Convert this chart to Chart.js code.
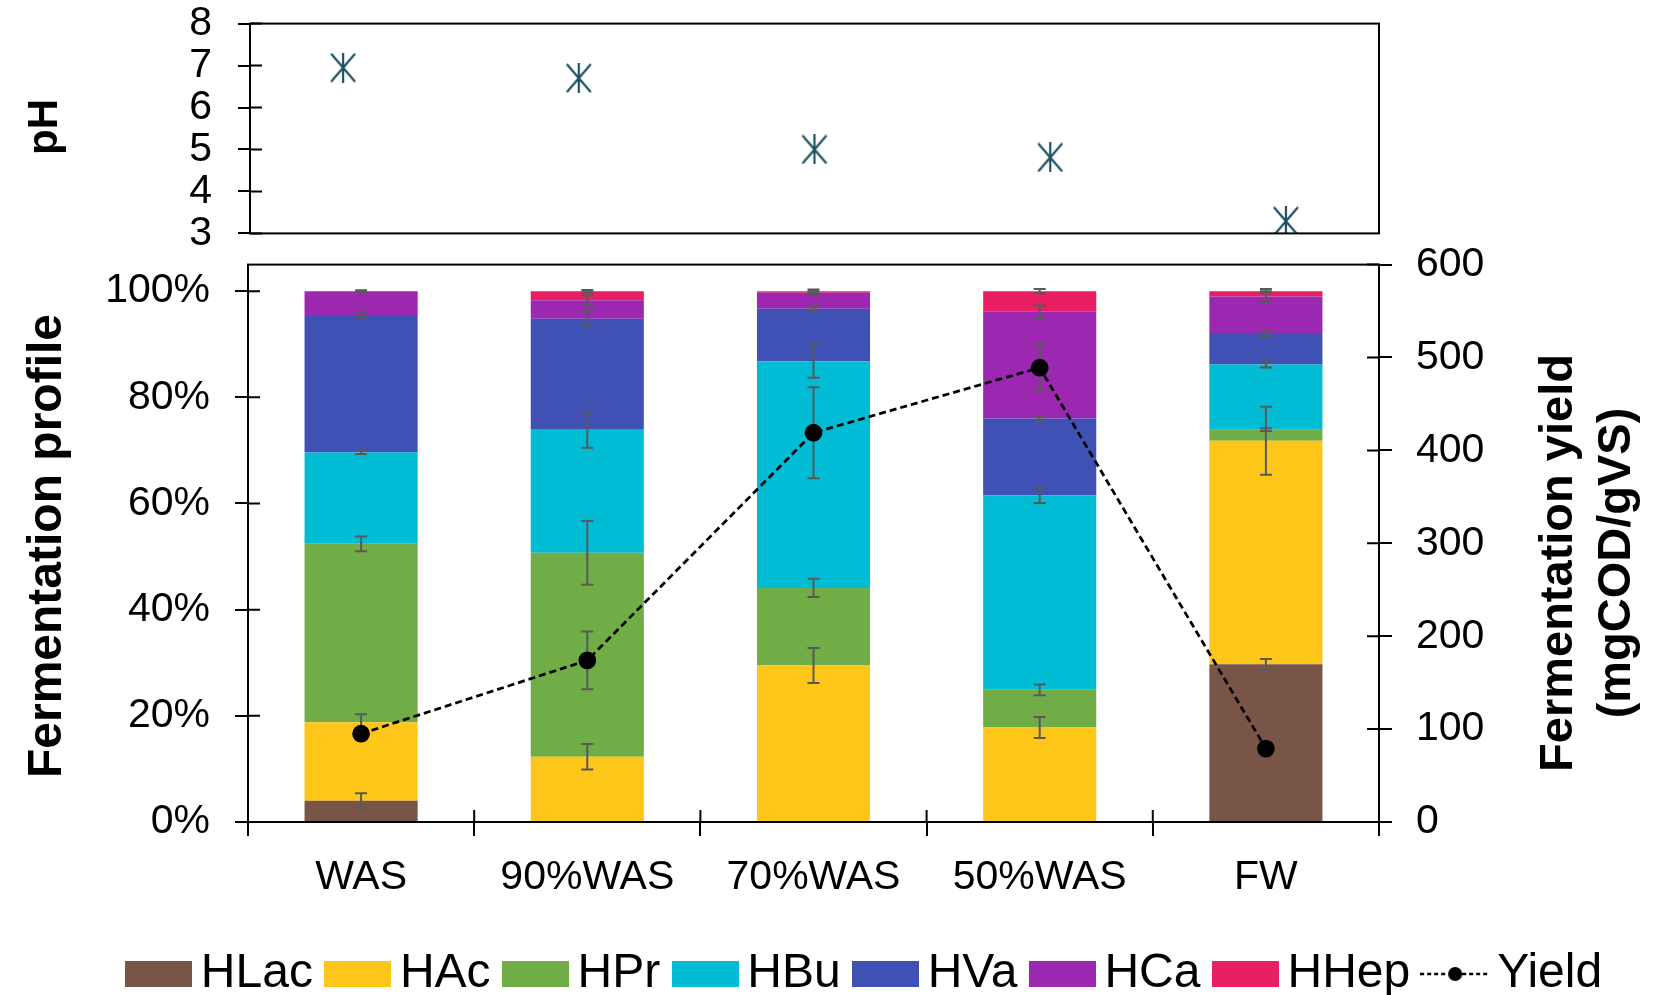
<!DOCTYPE html>
<html>
<head>
<meta charset="utf-8">
<script src="https://cdn.jsdelivr.net/npm/chart.js@4"></script>
<style>
  body { margin: 0; background: #fff; width: 1663px; height: 995px; overflow: hidden; position: relative; }
  #topBox { position: absolute; left: 0; top: -27px; z-index: 2; }
  #botBox { position: absolute; left: 0; top: 215px; z-index: 1; }
</style>
</head>
<body>
<div id="topBox"><canvas id="phChart" width="1663" height="311"></canvas></div>
<div id="botBox"><canvas id="fermChart" width="1663" height="793"></canvas></div>
<script>
// categories and values
const categories = ['WAS', '90%WAS', '70%WAS', '50%WAS', 'FW'];
const pH = [6.95, 6.7, 5.0, 4.81, 3.29];

// acid shares (% of total)
const hLac = [4.0, 0, 0, 0, 29.7];
const hAc = [14.8, 12.3, 29.5, 17.8, 42.1];
const hPr = [33.6, 38.4, 14.6, 7.1, 2.1];
const hBu = [17.2, 23.2, 42.7, 36.6, 12.3];
const hVa = [25.9, 20.9, 9.9, 14.5, 5.9];
const hCa = [4.5, 3.5, 3.0, 20.1, 6.9];
const hHep = [0, 1.7, 0.3, 3.9, 1.0];

// error bars (+/-)
const errLac = [1.4, 0, 0, 0, 1.0];
const errAc = [1.5, 2.4, 3.3, 2.0, 6.4];
const errPr = [1.4, 6.0, 1.7, 1.0, 0.25];
const errBu = [0.3, 3.4, 3.1, 1.4, 0.6];
const errVa = [0.5, 1.5, 0.5, 0.55, 0.6];
const errCa = [0.15, 0.9, 0.4, 1.2, 1.0];
const errHep = [0, 0.2, 0.3, 0.4, 0.4];

// fermentation yield (mgCOD/gVS)
const yieldVals = [95, 174, 419, 489, 79];
const yieldErr = [6, 31, 49, 25, 5];

const pctTicks = [0, 20, 40, 60, 80, 100];

const acidNames = ['HLac', 'HAc', 'HPr', 'HBu', 'HVa', 'HCa', 'HHep'];
const acidColors = ['#795548', '#FFC61A', '#70AD47', '#00BCD4', '#3F51B5', '#9C27B0', '#E91E63'];
const acidSeries = [hLac, hAc, hPr, hBu, hVa, hCa, hHep];
const acidErrs = [errLac, errAc, errPr, errBu, errVa, errCa, errHep];

const FONT = "'Liberation Sans', Arial, sans-serif";
Chart.defaults.font.family = FONT;
Chart.defaults.color = '#000';

// asterisk-like marker used for pH
function makePhMarker() {
    const c = document.createElement('canvas');
    c.width = 28; c.height = 30;
    const g = c.getContext('2d');
    g.strokeStyle = '#1B4F63';
    g.lineWidth = 2.2;
    g.beginPath();
    g.moveTo(2, 1); g.lineTo(26, 29);
    g.moveTo(26, 1); g.lineTo(2, 29);
    g.moveTo(14, 0); g.lineTo(14, 30);
    g.stroke();
    return c;
}

function makeBoxIcon(color) {
    const c = document.createElement('canvas');
    c.width = 67; c.height = 26;
    const g = c.getContext('2d');
    g.fillStyle = color;
    g.fillRect(0, 0, 67, 26);
    return c;
}

function makeYieldIcon() {
    const c = document.createElement('canvas');
    c.width = 70; c.height = 26;
    const g = c.getContext('2d');
    g.strokeStyle = '#000';
    g.lineWidth = 2.5;
    g.setLineDash([4, 3]);
    g.beginPath();
    g.moveTo(0, 13); g.lineTo(70, 13);
    g.stroke();
    g.fillStyle = '#000';
    g.beginPath();
    g.arc(35, 13, 7, 0, Math.PI * 2);
    g.fill();
    return c;
}

const legendIcons = acidColors.map(makeBoxIcon).concat([makeYieldIcon()]);

// frame round the plot area
const frame = {
    id: 'frame',
    afterDraw(chart) {
        const a = chart.chartArea, ctx = chart.ctx;
        ctx.save();
        ctx.strokeStyle = '#000';
        ctx.lineWidth = 2;
        ctx.strokeRect(a.left, a.top, a.right - a.left, a.bottom - a.top);
        ctx.restore();
    }
};

// tick marks that also reach into the plot area
function innerTicks(ids, len) {
    return {
        id: 'innerTicks',
        afterDraw(chart) {
            const ctx = chart.ctx;
            ctx.save();
            ctx.strokeStyle = '#000';
            ctx.lineWidth = 2;
            ids.forEach(id => {
                const s = chart.scales[id];
                if (!s) return;
                ctx.beginPath();
                if (s.axis === 'x') {
                    for (let i = 0; i <= s.ticks.length; i++) {
                        const px = s.getPixelForTick(0) + (i - 0.5) * (s.getPixelForTick(1) - s.getPixelForTick(0));
                        ctx.moveTo(px, s.top);
                        ctx.lineTo(px, s.top - len);
                    }
                } else {
                    s.ticks.forEach(t => {
                        const py = s.getPixelForValue(t.value);
                        const x0 = s.position === 'left' ? s.right : s.left;
                        const dir = s.position === 'left' ? 1 : -1;
                        ctx.moveTo(x0, py);
                        ctx.lineTo(x0 + dir * len, py);
                    });
                }
                ctx.stroke();
            });
            ctx.restore();
        }
    };
}

// rotated axis titles
function axisTitles(list) {
    return {
        id: 'axisTitles',
        afterDraw(chart) {
            const ctx = chart.ctx;
            list.forEach(t => {
                ctx.save();
                ctx.translate(t.x, t.y);
                ctx.rotate(-Math.PI / 2);
                ctx.font = `bold ${t.size}px ${FONT}`;
                ctx.fillStyle = '#000';
                ctx.textAlign = 'center';
                ctx.textBaseline = 'middle';
                ctx.fillText(t.text, 0, 0);
                ctx.restore();
            });
        }
    };
}

// error bars drawn just before the yield line so the dots sit on top
const errorBars = {
    id: 'errorBars',
    beforeDatasetDraw(chart, args) {
        if (args.index !== acidSeries.length) return;
        const ctx = chart.ctx;
        const x = chart.scales.x, y = chart.scales.y, y1 = chart.scales.y1;
        const cap = 6;
        function bar(cx, v1, v2) {
            ctx.moveTo(cx, v1); ctx.lineTo(cx, v2);
            ctx.moveTo(cx - cap, v1); ctx.lineTo(cx + cap, v1);
            ctx.moveTo(cx - cap, v2); ctx.lineTo(cx + cap, v2);
        }
        ctx.save();
        ctx.strokeStyle = '#595959';
        ctx.lineWidth = 2;
        ctx.beginPath();
        categories.forEach((c, i) => {
            const cx = x.getPixelForValue(i);
            let top = 0;
            acidSeries.forEach((s, k) => {
                top += s[i];
                const e = acidErrs[k][i];
                if (s[i] === 0 && e === 0) return;
                bar(cx, y.getPixelForValue(top - e), y.getPixelForValue(top + e));
            });
            bar(cx, y1.getPixelForValue(yieldVals[i] - yieldErr[i]), y1.getPixelForValue(yieldVals[i] + yieldErr[i]));
        });
        ctx.stroke();
        ctx.restore();
    }
};

// ---------- pH panel ----------
new Chart(document.getElementById('phChart'), {
    type: 'scatter',
    data: {
        datasets: [{
            data: pH.map((v, i) => ({ x: i + 1, y: v })),
            pointStyle: makePhMarker(),
            pointRadius: 14
        }]
    },
    options: {
        responsive: false,
        animation: false,
        devicePixelRatio: 1,
        layout: { padding: { top: 0, bottom: 0, left: 0, right: 284 } },
        plugins: { legend: { display: false }, tooltip: { enabled: false } },
        scales: {
            x: { type: 'linear', min: 0.605, max: 5.395, display: false },
            y: {
                min: 3, max: 8,
                ticks: { stepSize: 1, autoSkip: false, padding: 26, color: '#000', font: { size: 41 } },
                grid: { drawOnChartArea: false, tickLength: 12, color: '#000', lineWidth: 2 },
                border: { color: '#000', width: 2 },
                afterFit(s) { s.width = 250; }
            }
        }
    },
    plugins: [frame, innerTicks(['y'], 12), axisTitles([{ text: 'pH', x: 45, y: 154, size: 42 }])]
});

// ---------- fermentation panel ----------
const barSets = acidNames.map((name, k) => ({
    type: 'bar',
    label: name,
    data: acidSeries[k],
    backgroundColor: acidColors[k],
    borderWidth: 0,
    barPercentage: 0.5,
    categoryPercentage: 1,
    stack: 'acids',
    yAxisID: 'y',
    order: 1
}));

const yieldSet = {
    type: 'line',
    label: 'Yield',
    data: yieldVals,
    yAxisID: 'y1',
    borderColor: '#000',
    borderWidth: 2.75,
    borderDash: [7, 4],
    pointRadius: 7.5,
    pointBackgroundColor: '#000',
    pointBorderColor: '#000',
    tension: 0,
    order: 0
};

new Chart(document.getElementById('fermChart'), {
    type: 'bar',
    data: { labels: categories, datasets: barSets.concat([yieldSet]) },
    options: {
        responsive: false,
        animation: false,
        devicePixelRatio: 1,
        layout: { padding: { top: 0, left: 80, right: 0, bottom: 0 } },
        plugins: {
            tooltip: { enabled: false },
            legend: {
                position: 'bottom',
                labels: {
                    color: '#000',
                    font: { size: 48 },
                    usePointStyle: true,
                    pointStyleWidth: 36,
                    boxHeight: 26,
                    padding: 27,
                    sort: (a, b) => a.datasetIndex - b.datasetIndex,
                    generateLabels(chart) {
                        const items = Chart.defaults.plugins.legend.labels.generateLabels(chart);
                        items.forEach(it => { it.pointStyle = legendIcons[it.datasetIndex]; it.lineWidth = 0; });
                        return items;
                    }
                }
            }
        },
        scales: {
            x: {
                stacked: true,
                ticks: { color: '#000', font: { size: 41 }, padding: 17 },
                grid: { offset: true, drawOnChartArea: false, tickLength: 14, color: '#000', lineWidth: 2 },
                border: { color: '#000', width: 2 },
                afterFit(s) { s.height = 101; }
            },
            y: {
                stacked: true,
                min: 0, max: 105,
                afterBuildTicks(s) { s.ticks = pctTicks.map(v => ({ value: v })); },
                ticks: { color: '#000', font: { size: 41 }, padding: 25, callback: v => v + '%' },
                grid: { drawOnChartArea: false, tickLength: 13, color: '#000', lineWidth: 2 },
                border: { color: '#000', width: 2 },
                afterFit(s) { s.width = 168; }
            },
            y1: {
                position: 'right',
                min: 0, max: 600,
                ticks: { stepSize: 100, color: '#000', font: { size: 41 }, padding: 24 },
                grid: { drawOnChartArea: false, tickLength: 13, color: '#000', lineWidth: 2 },
                border: { color: '#000', width: 2 },
                afterFit(s) { s.width = 284; }
            }
        }
    },
    plugins: [errorBars, frame, innerTicks(['x', 'y', 'y1'], 12), axisTitles([
        { text: 'Fermentation profile', x: 48, y: 331, size: 48 },
        { text: 'Fermentation yield', x: 1559, y: 348, size: 47 },
        { text: '(mgCOD/gVS)', x: 1617, y: 348, size: 47 }
    ])]
});
</script>
</body>
</html>
